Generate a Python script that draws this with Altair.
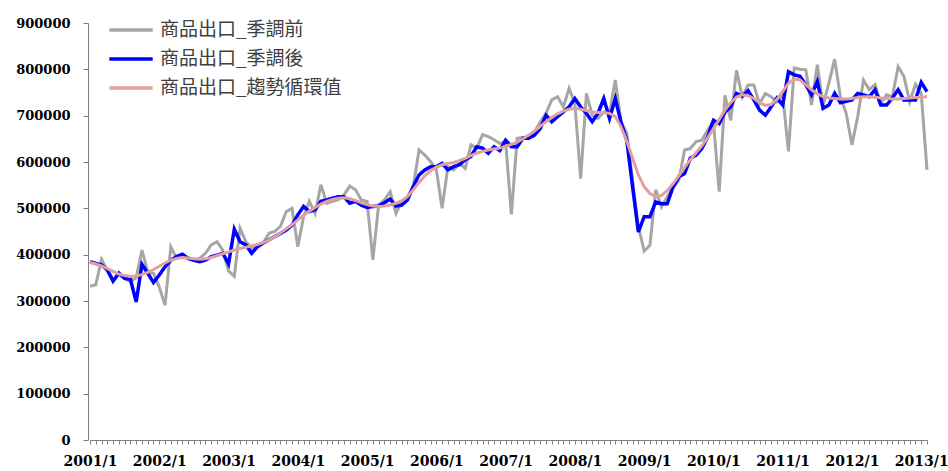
import altair as alt
import pandas as pd

# categories: months 2001/1 .. 2013/2
months = [f"{y}/{m}" for y in range(2001, 2014) for m in range(1, 13)][:146]

before = [
    332000, 335000, 390000, 365000, 345000, 358000, 348000, 342000, 350000, 410000, 363000, 360000,
    330000, 291000, 417000, 392000, 396000, 394000, 388000, 392000, 403000, 421000, 428000, 410000,
    365000, 353000, 457000, 428000, 414000, 421000, 425000, 446000, 450000, 461000, 493000, 500000,
    417000, 482000, 515000, 489000, 551000, 511000, 515000, 518000, 529000, 548000, 540000, 518000,
    515000, 389000, 507000, 518000, 536000, 489000, 515000, 525000, 547000, 626000, 615000, 601000,
    583000, 500000, 590000, 583000, 597000, 586000, 637000, 630000, 659000, 655000, 648000, 640000,
    644000, 487000, 651000, 653000, 654000, 665000, 687000, 705000, 734000, 741000, 719000, 759000,
    726000, 564000, 748000, 701000, 694000, 708000, 705000, 777000, 687000, 662000, 560000, 460000,
    408000, 420000, 540000, 503000, 525000, 545000, 560000, 626000, 629000, 644000, 647000, 669000,
    687000, 536000, 744000, 690000, 798000, 741000, 766000, 766000, 726000, 748000, 741000, 730000,
    745000, 623000, 803000, 800000, 799000, 723000, 810000, 722000, 770000, 822000, 741000, 705000,
    637000, 698000, 777000, 756000, 767000, 727000, 745000, 741000, 806000, 785000, 730000, 768000,
    748000, 583000,
]

after = [
    385000, 381000, 378000, 367000, 343000, 360000, 349000, 347000, 298000, 379000, 360000, 340000,
    356000, 374000, 388000, 396000, 401000, 392000, 388000, 385000, 388000, 396000, 399000, 403000,
    380000, 455000, 428000, 421000, 403000, 417000, 425000, 432000, 439000, 446000, 453000, 464000,
    486000, 504000, 493000, 497000, 515000, 518000, 522000, 525000, 525000, 511000, 515000, 507000,
    502000, 504000, 505000, 512000, 520000, 505000, 507000, 518000, 547000, 572000, 583000, 590000,
    590000, 597000, 583000, 590000, 594000, 605000, 612000, 633000, 630000, 619000, 633000, 625000,
    647000, 633000, 633000, 651000, 651000, 658000, 672000, 701000, 687000, 698000, 708000, 719000,
    737000, 719000, 705000, 687000, 705000, 737000, 694000, 737000, 685000, 646000, 546000, 449000,
    482000, 482000, 514000, 510000, 510000, 546000, 568000, 575000, 608000, 615000, 629000, 654000,
    690000, 683000, 708000, 719000, 748000, 742000, 754000, 734000, 712000, 701000, 719000, 738000,
    723000, 795000, 788000, 785000, 767000, 745000, 774000, 716000, 723000, 748000, 728000, 731000,
    734000, 748000, 745000, 741000, 756000, 723000, 723000, 738000, 756000, 734000, 734000, 734000,
    772000, 752000,
]

trend = [
    383000, 380000, 376000, 370000, 364000, 358000, 355000, 353000, 354000, 357000, 362000, 368000,
    375000, 382000, 388000, 392000, 394000, 393000, 391000, 390000, 391000, 394000, 398000, 402000,
    406000, 410000, 413000, 416000, 419000, 422000, 426000, 432000, 439000, 447000, 456000, 465000,
    475000, 485000, 494000, 502000, 509000, 515000, 519000, 522000, 523000, 521000, 517000, 512000,
    508000, 505000, 504000, 505000, 507000, 511000, 516000, 525000, 540000, 556000, 570000, 581000,
    589000, 594000, 597000, 599000, 603000, 608000, 614000, 619000, 623000, 626000, 628000, 630000,
    634000, 638000, 643000, 650000, 658000, 667000, 677000, 687000, 696000, 704000, 710000, 714000,
    716000, 714000, 711000, 708000, 707000, 707000, 705000, 698000, 676000, 645000, 608000, 572000,
    547000, 532000, 525000, 528000, 538000, 553000, 570000, 588000, 605000, 620000, 635000, 652000,
    672000, 692000, 712000, 728000, 740000, 745000, 743000, 737000, 728000, 722000, 724000, 735000,
    752000, 770000, 779000, 777000, 767000, 756000, 747000, 741000, 738000, 737000, 736000, 736000,
    737000, 739000, 741000, 741000, 740000, 738000, 737000, 736000, 736000, 737000, 738000, 739000,
    740000, 741000,
]

names = ["商品出口_季調前", "商品出口_季調後", "商品出口_趨勢循環值"]
colors = ["#a6a6a6", "#0000ff", "#e2a09f"]
widths = [3, 3.5, 3]
y_ticks = [0, 100000, 200000, 300000, 400000, 500000, 600000, 700000, 800000, 900000]

rows = []
for name, vals in zip(names, [before, after, trend]):
    for mth, v in zip(months, vals):
        rows.append({"month": mth, "value": v, "series": name})
df = pd.DataFrame(rows)

x_enc = alt.X(
    "month:O",
    sort=months,
    scale=alt.Scale(type="point", padding=0),
    axis=alt.Axis(
        title=None,
        labelAngle=0,
        labelOverlap=False,
        labelExpr="split(datum.value, '/')[1] == '1' ? datum.value : ''",
        labelFont="DejaVu Serif",
        labelFontWeight="bold",
        labelFontSize=14,
        labelColor="#000000",
        labelPadding=10,
        tickSize=4,
        tickColor="#808080",
        domainColor="#808080",
        labelBound=False,
    ),
)

y_enc = alt.Y(
    "value:Q",
    scale=alt.Scale(domain=[0, 900000], nice=False),
    axis=alt.Axis(
        title=None,
        values=y_ticks,
        format="d",
        grid=False,
        labelFont="DejaVu Serif",
        labelFontWeight="bold",
        labelFontSize=13,
        labelColor="#000000",
        labelPadding=13,
        tickSize=5,
        tickColor="#808080",
        domainColor="#808080",
        offset=2,
    ),
)

color_enc = alt.Color(
    "series:N",
    scale=alt.Scale(domain=names, range=colors),
    legend=alt.Legend(
        title=None,
        orient="none",
        legendX=25,
        legendY=-9,
        symbolType="M-1.55,0L1.55,0",
        symbolSize=784,
        symbolStrokeWidth=3.5,
        labelFont="Noto Sans CJK TC",
        labelFontSize=19,
        labelColor="#404040",
        labelOffset=13,
        labelLimit=0,
        rowPadding=3,
        padding=0,
    ),
)

layers = [
    alt.Chart(df)
    .transform_filter(alt.datum.series == n)
    .mark_line(strokeWidth=w)
    .encode(x=x_enc, y=y_enc, color=color_enc)
    for n, w in zip(names, widths)
]

chart = (
    alt.layer(*layers)
    .properties(
        width=837,
        height=417,
        padding={"left": 90, "top": 23, "right": 21, "bottom": 31},
        autosize=alt.AutoSizeParams(type="none"),
    )
    .configure_view(stroke=None)
)

chart.save("out.html", embed_options={"renderer": "svg", "actions": False})
